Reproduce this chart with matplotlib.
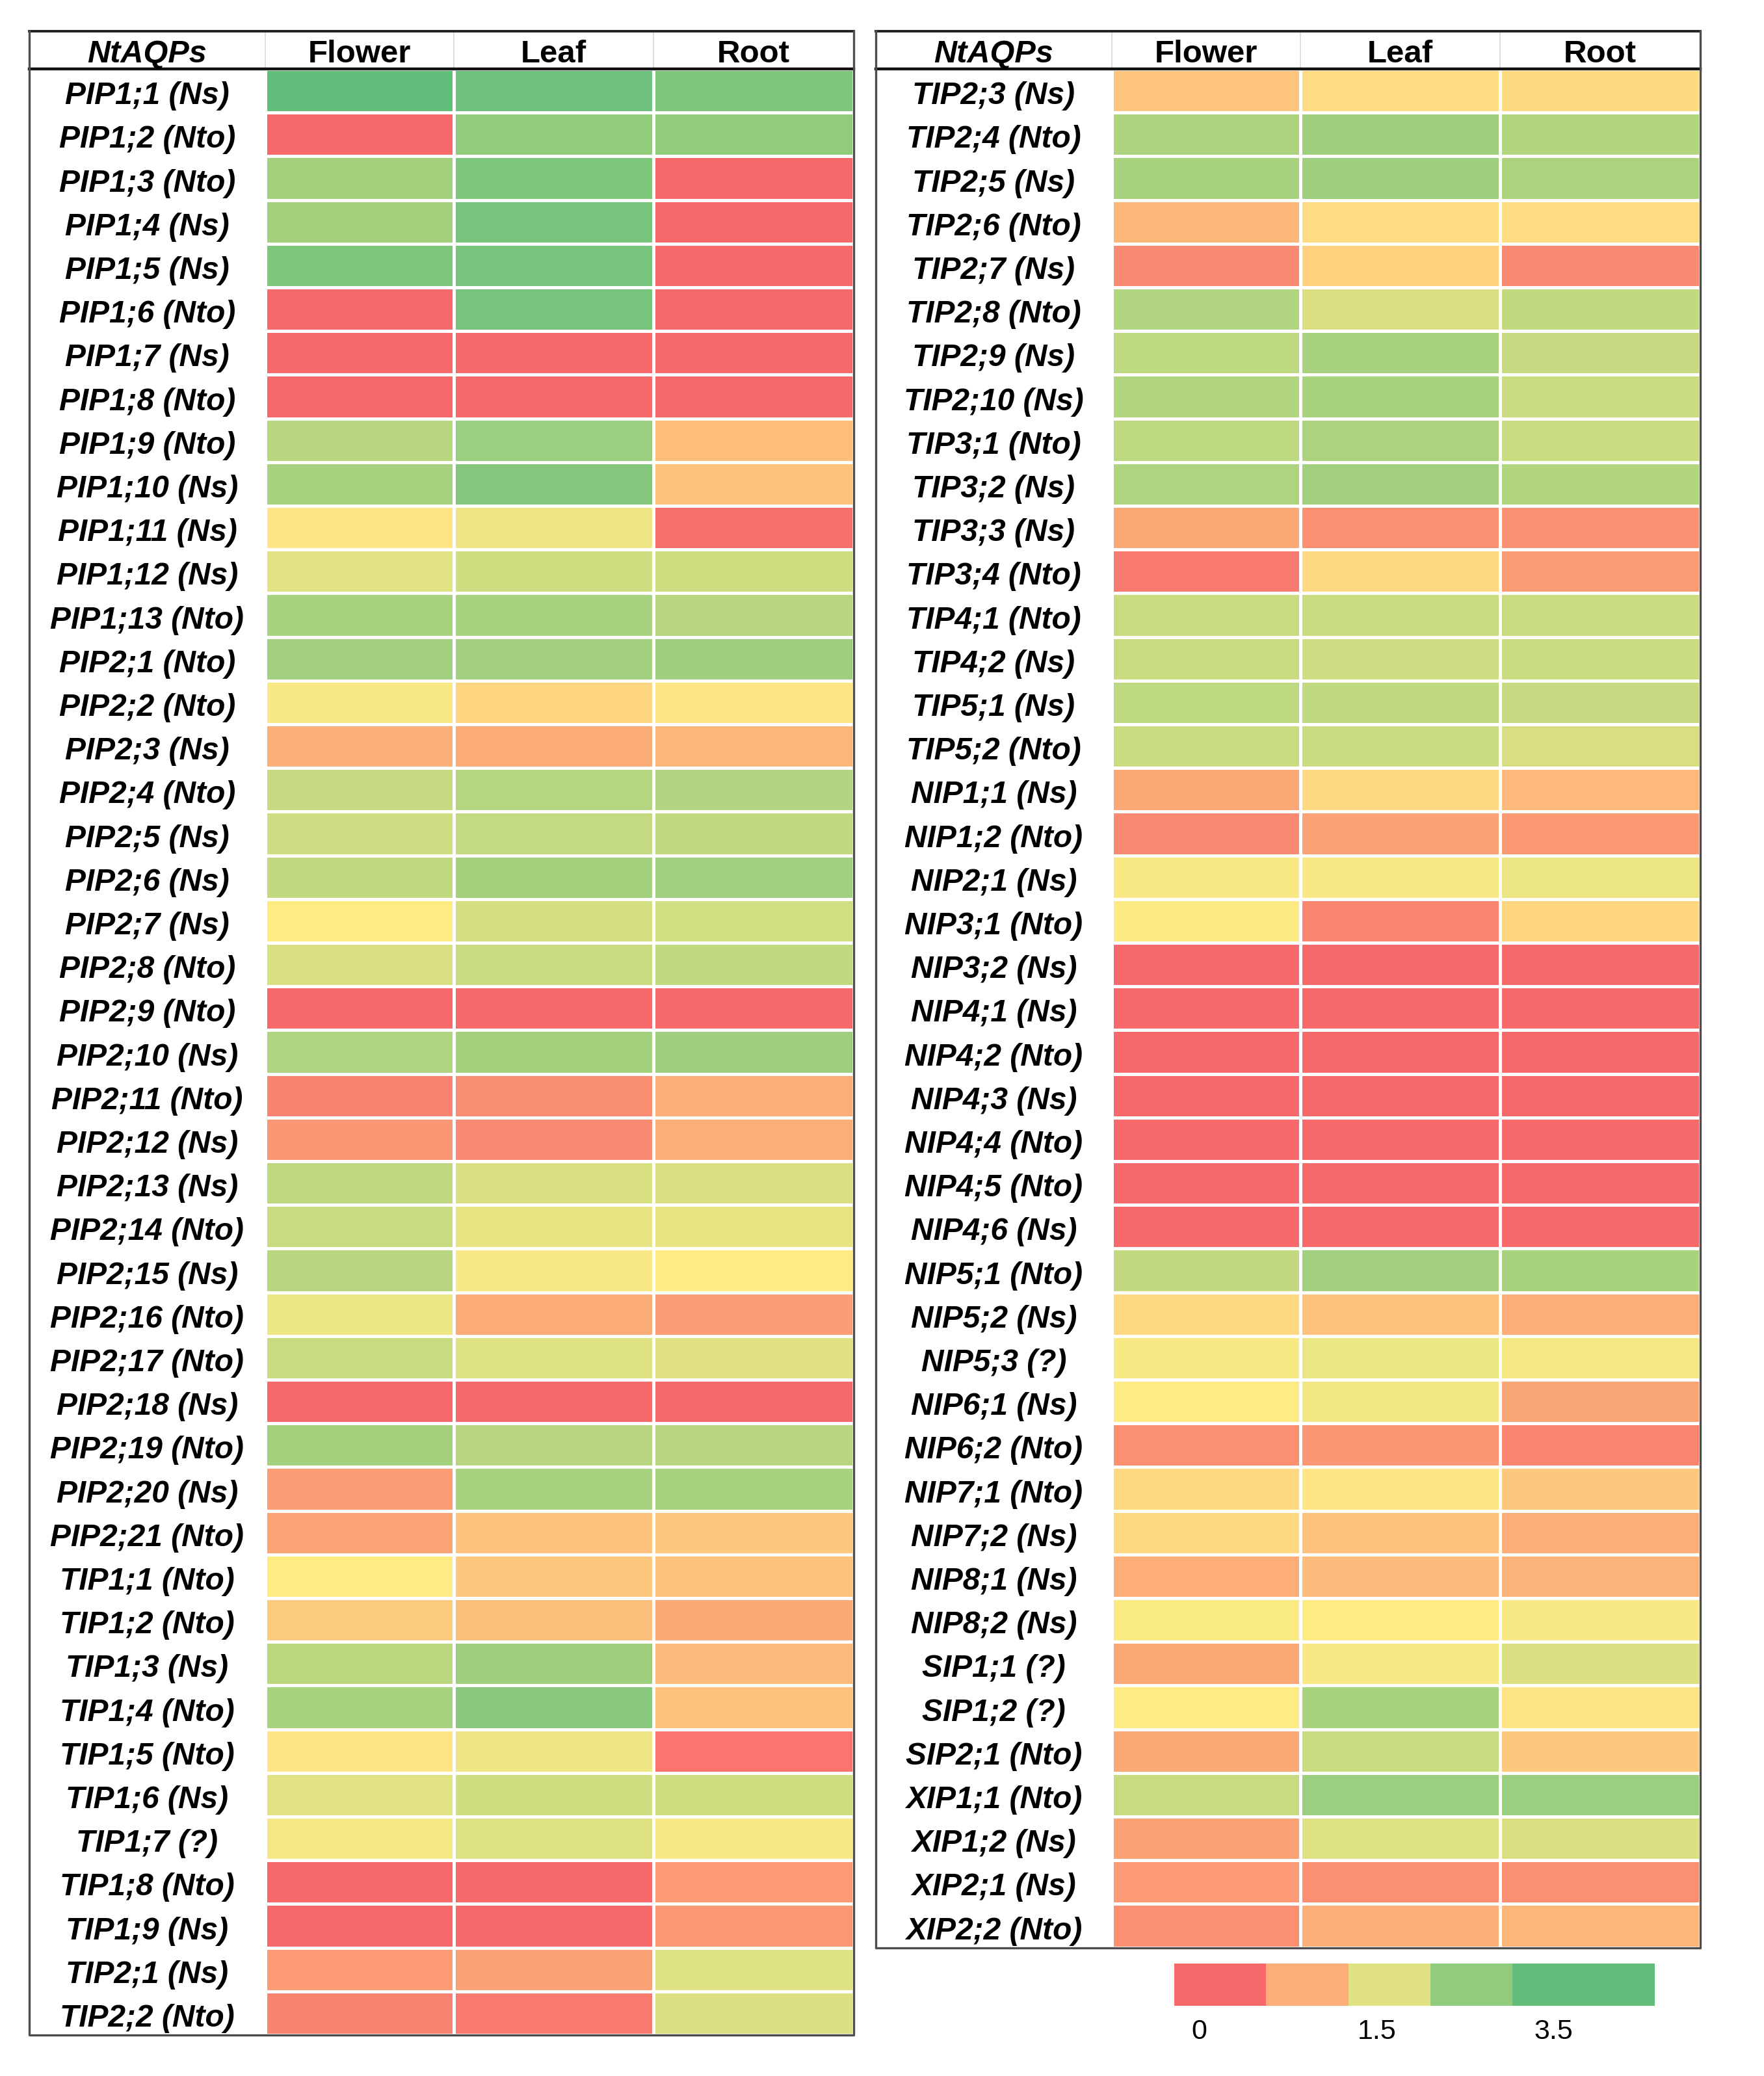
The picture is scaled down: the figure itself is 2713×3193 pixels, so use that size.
import numpy as np
import matplotlib.pyplot as plt
from matplotlib.colors import LinearSegmentedColormap

plt.rcParams['font.family'] = ['Liberation Sans', 'DejaVu Sans']

tissues = ['Flower', 'Leaf', 'Root']

# left table
left_genes = ['PIP1;1 (Ns)', 'PIP1;2 (Nto)', 'PIP1;3 (Nto)', 'PIP1;4 (Ns)', 'PIP1;5 (Ns)',
              'PIP1;6 (Nto)', 'PIP1;7 (Ns)', 'PIP1;8 (Nto)', 'PIP1;9 (Nto)', 'PIP1;10 (Ns)',
              'PIP1;11 (Ns)', 'PIP1;12 (Ns)', 'PIP1;13 (Nto)', 'PIP2;1 (Nto)', 'PIP2;2 (Nto)',
              'PIP2;3 (Ns)', 'PIP2;4 (Nto)', 'PIP2;5 (Ns)', 'PIP2;6 (Ns)', 'PIP2;7 (Ns)',
              'PIP2;8 (Nto)', 'PIP2;9 (Nto)', 'PIP2;10 (Ns)', 'PIP2;11 (Nto)', 'PIP2;12 (Ns)',
              'PIP2;13 (Ns)', 'PIP2;14 (Nto)', 'PIP2;15 (Ns)', 'PIP2;16 (Nto)', 'PIP2;17 (Nto)',
              'PIP2;18 (Ns)', 'PIP2;19 (Nto)', 'PIP2;20 (Ns)', 'PIP2;21 (Nto)', 'TIP1;1 (Nto)',
              'TIP1;2 (Nto)', 'TIP1;3 (Ns)', 'TIP1;4 (Nto)', 'TIP1;5 (Nto)', 'TIP1;6 (Ns)',
              'TIP1;7 (?)', 'TIP1;8 (Nto)', 'TIP1;9 (Ns)', 'TIP2;1 (Ns)', 'TIP2;2 (Nto)']
left_flower = [3.5, 0, 2.64, 2.64, 3.14, 0, 0, 0, 2.41, 2.62,
               1.42, 1.87, 2.62, 2.69, 1.59, 0.83, 2.24, 2.13, 2.28, 1.5,
               1.99, 0, 2.53, 0.3, 0.52, 2.33, 2.2, 2.41, 1.74, 2.2,
               0, 2.65, 0.6, 0.69, 1.5, 1.13, 2.38, 2.6, 1.41, 1.88,
               1.65, 0, 0, 0.57, 0.31]
left_leaf = [3.36, 2.88, 3.14, 3.24, 3.21, 3.24, 0, 0, 2.78, 3.08,
             1.72, 2.1, 2.62, 2.69, 1.25, 0.77, 2.44, 2.26, 2.64, 2.04,
             2.19, 0, 2.64, 0.43, 0.38, 1.99, 1.81, 1.59, 0.77, 1.91,
             0, 2.41, 2.62, 1.05, 1.1, 1.0, 2.76, 3.0, 1.72, 2.1,
             1.94, 0, 0, 0.65, 0.21]
left_root = [3.13, 2.9, 0, 0, 0, 0, 0, 0, 0.98, 1.03,
             0.09, 2.1, 2.41, 2.73, 1.43, 0.89, 2.49, 2.27, 2.72, 2.08,
             2.28, 0, 2.73, 0.8, 0.8, 1.99, 1.81, 1.5, 0.61, 1.9,
             0, 2.41, 2.62, 1.1, 1.05, 0.74, 0.93, 1.03, 0.15, 2.1,
             1.59, 0.57, 0.54, 1.92, 1.96]

# right table
right_genes = ['TIP2;3 (Ns)', 'TIP2;4 (Nto)', 'TIP2;5 (Ns)', 'TIP2;6 (Nto)', 'TIP2;7 (Ns)',
               'TIP2;8 (Nto)', 'TIP2;9 (Ns)', 'TIP2;10 (Ns)', 'TIP3;1 (Nto)', 'TIP3;2 (Ns)',
               'TIP3;3 (Ns)', 'TIP3;4 (Nto)', 'TIP4;1 (Nto)', 'TIP4;2 (Ns)', 'TIP5;1 (Ns)',
               'TIP5;2 (Nto)', 'NIP1;1 (Ns)', 'NIP1;2 (Nto)', 'NIP2;1 (Ns)', 'NIP3;1 (Nto)',
               'NIP3;2 (Ns)', 'NIP4;1 (Ns)', 'NIP4;2 (Nto)', 'NIP4;3 (Ns)', 'NIP4;4 (Nto)',
               'NIP4;5 (Nto)', 'NIP4;6 (Ns)', 'NIP5;1 (Nto)', 'NIP5;2 (Ns)', 'NIP5;3 (?)',
               'NIP6;1 (Ns)', 'NIP6;2 (Nto)', 'NIP7;1 (Nto)', 'NIP7;2 (Ns)', 'NIP8;1 (Ns)',
               'NIP8;2 (Ns)', 'SIP1;1 (?)', 'SIP1;2 (?)', 'SIP2;1 (Nto)', 'XIP1;1 (Nto)',
               'XIP1;2 (Ns)', 'XIP2;1 (Ns)', 'XIP2;2 (Nto)']
right_flower = [1.06, 2.55, 2.6, 0.91, 0.4, 2.5, 2.36, 2.48, 2.36, 2.52,
                0.73, 0.2, 2.21, 2.21, 2.36, 2.18, 0.73, 0.38, 1.59, 1.52,
                0, 0, 0, 0, 0, 0, 0, 2.28, 1.28, 1.6,
                1.5, 0.45, 1.28, 1.28, 0.79, 1.56, 0.73, 1.5, 0.73, 2.2,
                0.65, 0.57, 0.44]
right_leaf = [1.33, 2.76, 2.76, 1.33, 1.21, 1.97, 2.62, 2.6, 2.55, 2.69,
              0.45, 1.3, 2.2, 2.13, 2.3, 2.18, 1.3, 0.65, 1.59, 0.32,
              0, 0, 0, 0, 0, 0, 0, 2.69, 1.04, 1.75,
              1.68, 0.53, 1.43, 1.04, 0.93, 1.5, 1.59, 2.6, 2.19, 2.78,
              1.94, 0.44, 0.8]
right_root = [1.3, 2.48, 2.55, 1.33, 0.4, 2.28, 2.23, 2.21, 2.21, 2.48,
              0.48, 0.6, 2.2, 2.21, 2.24, 2.01, 0.92, 0.55, 1.76, 1.25,
              0, 0, 0, 0, 0, 0, 0, 2.6, 0.8, 1.65,
              0.7, 0.32, 1.1, 0.8, 0.86, 1.58, 1.98, 1.42, 1.1, 2.78,
              1.97, 0.44, 0.89]

# legend blocks and labels
legend_values = [0, 0.8, 1.9, 2.9, 3.5]
legend_ticks = ['0', '1.5', '3.5']

vmin, vmax = 0, 3.5
cmap = LinearSegmentedColormap.from_list(
    'ryg', [(0, '#F8696B'), (1.5 / 3.5, '#FFEB84'), (1, '#63BE7B')])

W, H = 2713, 3193
fig = plt.figure(figsize=(W / 100, H / 100), dpi=100)

col_w = [363, 290, 307, 308]           # label column + 3 tissue columns (px)
row_h = 67.2
head_h = 58


def draw_table(x0, genes, cols):
    n = len(genes)
    data = np.array(cols).T
    top = 48
    bottom = 106 + n * row_h
    ax = fig.add_axes([x0 / W, 1 - bottom / H, sum(col_w) / W, (bottom - top) / H])
    hh = head_h / row_h
    edges = np.cumsum([0] + col_w)
    ax.pcolormesh(edges[1:], np.arange(n + 1), data, cmap=cmap, vmin=vmin, vmax=vmax,
                  edgecolors='white', linewidth=2.2)
    ax.set_xlim(0, edges[-1])
    ax.set_ylim(n, -hh)
    ax.axis('off')
    for i, g in enumerate(genes):
        ax.text(edges[1] / 2, i + 0.62, g, ha='center', va='center', fontsize=34.5,
                fontweight='bold', fontstyle='italic')
    ax.text(edges[1] / 2, -hh / 2 + 0.1, 'NtAQPs', ha='center', va='center', fontsize=35,
            fontweight='bold', fontstyle='italic')
    for j, t in enumerate(tissues):
        ax.text((edges[j + 1] + edges[j + 2]) / 2, -hh / 2 + 0.1, t, ha='center',
                va='center', fontsize=35.5, fontweight='bold')
    for e in edges[1:-1]:
        ax.plot([e, e], [-hh, 0], color='#d9d9d9', lw=1.2, clip_on=False)
    ax.plot([0, edges[-1]], [-hh, -hh], color='#222222', lw=2.8, clip_on=False)
    ax.plot([0, edges[-1]], [0, 0], color='#111111', lw=3.2, clip_on=False)
    ax.plot([0, 0, edges[-1], edges[-1]], [-hh, n, n, -hh], color='#4d4d4d', lw=2.4,
            clip_on=False)


draw_table(45, left_genes, [left_flower, left_leaf, left_root])
draw_table(1347, right_genes, [right_flower, right_leaf, right_root])

# legend bar
block_w = [141, 127, 126, 126, 219]
tick_x = [38, 312, 583]
cax = fig.add_axes([1806 / W, 1 - 3085 / H, sum(block_w) / W, 65 / H])
lefts = np.cumsum([0] + block_w[:-1])
cax.bar(lefts, 1, width=block_w, align='edge', color=cmap(np.array(legend_values) / vmax))
cax.set_xlim(0, sum(block_w))
cax.set_ylim(0, 1)
cax.axis('off')
for x, t in zip(tick_x, legend_ticks):
    cax.text(x, -0.62, t, ha='center', va='center', fontsize=31)

fig.savefig('out.png', dpi=100, facecolor='white')
